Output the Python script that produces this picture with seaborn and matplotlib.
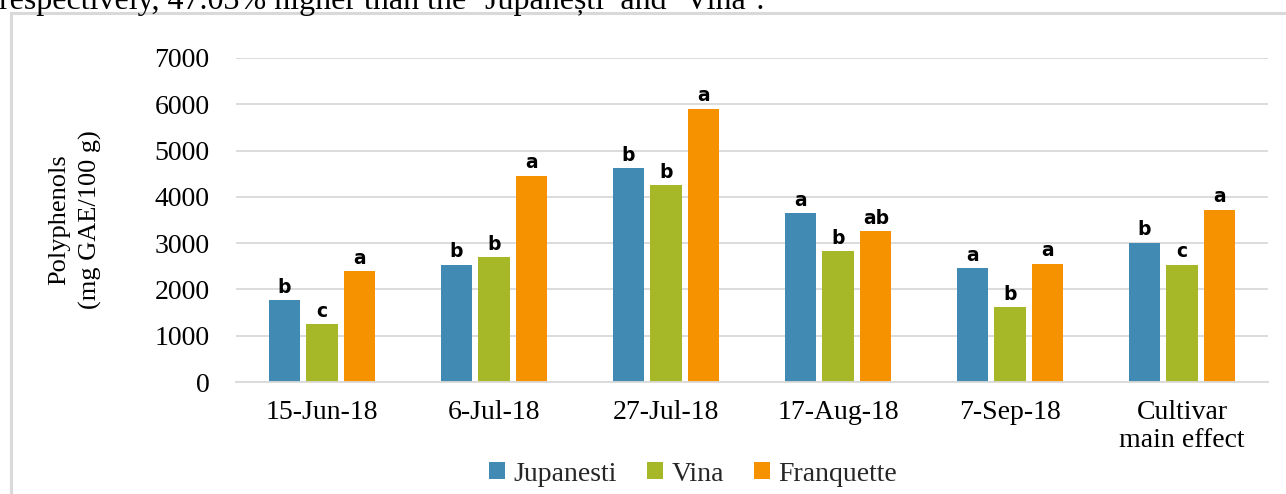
import matplotlib as mpl
import matplotlib.pyplot as plt
import pandas as pd
import seaborn as sns
from matplotlib.patches import Rectangle

# sampling dates (plus the cultivar main effect group)
dates = ["15-Jun-18", "6-Jul-18", "27-Jul-18", "17-Aug-18", "7-Sep-18", "Cultivar\nmain effect"]
cultivars = ["Jupanesti", "Vina", "Franquette"]

# polyphenols, mg GAE/100 g
jupanesti = [1770, 2530, 4615, 3650, 2455, 3010]
vina = [1245, 2690, 4250, 2820, 1615, 2530]
franquette = [2390, 4455, 5905, 3260, 2550, 3720]

# significance letters
letters_jupanesti = ["b", "b", "b", "a", "a", "b"]
letters_vina = ["c", "b", "b", "b", "b", "c"]
letters_franquette = ["a", "a", "a", "ab", "a", "a"]

yticks = [0, 1000, 2000, 3000, 4000, 5000, 6000, 7000]
colors = ["#418AB3", "#A6B727", "#F69200"]

records = []
for cultivar, values in zip(cultivars, [jupanesti, vina, franquette]):
    for date, value in zip(dates, values):
        records.append({"date": date, "cultivar": cultivar, "value": value})
df = pd.DataFrame.from_records(records)

sns.set_theme(style="white")
mpl.rcParams["font.family"] = ["Liberation Serif", "DejaVu Serif"]

fig = plt.figure(figsize=(12.86, 4.94), dpi=100)
ax = fig.add_axes([236 / 1286, 1 - 382 / 494, 1032 / 1286, 324 / 494])

sns.barplot(
    data=df,
    x="date",
    y="value",
    hue="cultivar",
    order=dates,
    hue_order=cultivars,
    palette=colors,
    saturation=1,
    width=0.66,
    gap=0.18,
    linewidth=0,
    ax=ax,
)

# letters above bars
for container, letters in zip(ax.containers, [letters_jupanesti, letters_vina, letters_franquette]):
    for bar, letter in zip(container, letters):
        ax.annotate(
            letter,
            (bar.get_x() + bar.get_width() / 2, bar.get_height()),
            xytext=(0, 2.5),
            textcoords="offset points",
            ha="center",
            va="bottom",
            fontsize=13.5,
            fontweight="bold",
            family="DejaVu Sans",
            color="black",
        )

ax.set_ylim(0, 7000)
ax.set_yticks(yticks)
ax.set_xlim(-0.5, len(dates) - 0.5)
ax.yaxis.grid(True, color="#D9D9D9", linewidth=1.3)
ax.set_axisbelow(True)
for side in ["top", "right", "left"]:
    ax.spines[side].set_visible(False)
ax.spines["bottom"].set_color("#D9D9D9")
ax.spines["bottom"].set_linewidth(1.3)
ax.tick_params(axis="both", length=0, labelsize=20, colors="black")
ax.tick_params(axis="y", pad=19)
ax.tick_params(axis="x", pad=13)
for lab in ax.get_xticklabels():
    lab.set_linespacing(1.15)
ax.set_xlabel("")
ax.set_ylabel("Polyphenols\n(mg GAE/100 g)", fontsize=19, color="black", labelpad=38, linespacing=1.45)

handles, labels = ax.get_legend_handles_labels()
ax.get_legend().remove()
fig.legend(
    handles,
    labels,
    loc="center",
    bbox_to_anchor=(693 / 1286, 1 - 474 / 494),
    ncol=3,
    frameon=False,
    fontsize=20,
    handlelength=0.57,
    handleheight=0.57,
    handletextpad=0.3,
    columnspacing=1.1,
)

# text from the page above the chart, cut off at the top
fig.text(
    -0.001,
    1 - 9 / 494,
    "respectively, 47.03% higher than the \u2018Jupane\u0219ti\u2019 and \u2018Vina\u2019.",
    fontsize=23,
    va="baseline",
    ha="left",
    color="black",
)

# chart frame (runs past the right and bottom edges)
fig.patches.append(
    Rectangle(
        (11 / 1286, -0.05),
        1.0,
        (494 - 13) / 494 + 0.05,
        transform=fig.transFigure,
        fill=False,
        edgecolor="#D9D9D9",
        linewidth=2.2,
    )
)

plt.savefig("out.png", dpi=100)
